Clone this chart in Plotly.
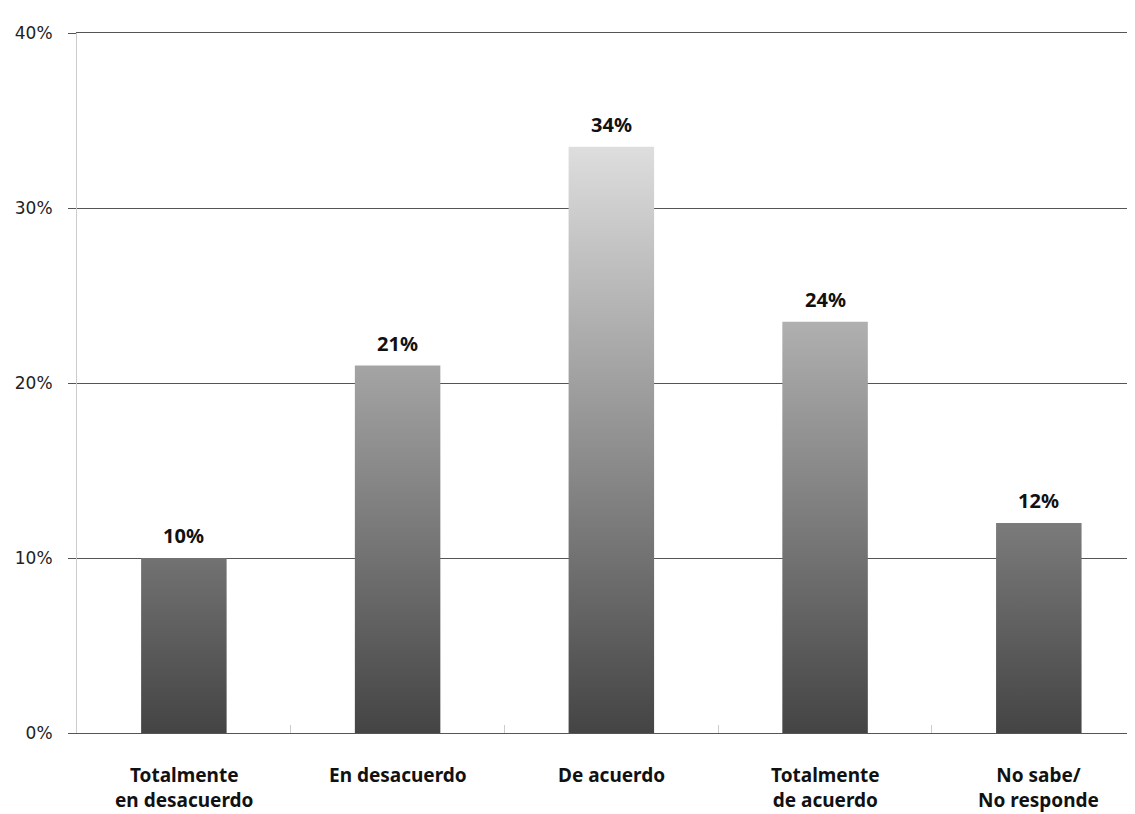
import plotly.graph_objects as go

categories = ["Totalmente<br>en desacuerdo", "En desacuerdo", "De acuerdo", "Totalmente<br>de acuerdo", "No sabe/<br>No responde"]
values = [10, 21, 33.5, 23.5, 12]
labels = ["10%", "21%", "34%", "24%", "12%"]
y_ticks = [0, 10, 20, 30, 40]
y_tick_text = ["0%", "10%", "20%", "30%", "40%"]

BOLD_FONT = "Noto Sans"
bar_w = 0.40
fig = go.Figure()
for i, v in enumerate(values):
    fig.add_trace(go.Scatter(
        x=[i - bar_w / 2, i + bar_w / 2, i + bar_w / 2, i - bar_w / 2, i - bar_w / 2],
        y=[0, 0, v, v, 0],
        mode="lines", line=dict(width=0), fill="toself",
        fillgradient=dict(type="vertical", start=0, stop=34,
                          colorscale=[[0, "#444444"], [1, "#e0e0e0"]]),
        hoverinfo="skip", showlegend=False,
    ))

# invisible trace for boundary tick axis
fig.add_trace(go.Scatter(x=[0], y=[0], xaxis="x2", mode="markers",
                         marker=dict(opacity=0), showlegend=False, hoverinfo="skip"))

annotations = []
for i, (v, lab) in enumerate(zip(values, labels)):
    annotations.append(dict(x=i, y=v, xref="x", yref="y", text=lab, showarrow=False,
                            yanchor="bottom", xanchor="center", yshift=7,
                            font=dict(family=BOLD_FONT, size=20, color="#111111", weight="bold")))
for i, cat in enumerate(categories):
    annotations.append(dict(x=i, y=0, xref="x", yref="y", text=cat, showarrow=False,
                            yanchor="top", xanchor="center", align="center", yshift=-28,
                            borderpad=0,
                            font=dict(family=BOLD_FONT, size=19, color="#111111", weight="bold")))

xr = [-0.5, 4.45]
fig.update_layout(
    width=1127, height=806,
    margin=dict(l=69, r=0, t=25, b=81),
    plot_bgcolor="white", paper_bgcolor="white",
    annotations=annotations,
    xaxis=dict(range=xr, showticklabels=False,
               showgrid=False, zeroline=False, showline=True, mirror=True,
               linecolor="#555555", linewidth=1, ticks=""),
    xaxis2=dict(range=xr, overlaying="x", anchor="y", side="bottom",
                tickvals=[0.5, 1.5, 2.5, 3.5], ticks="inside", ticklen=8,
                tickcolor="#cccccc", tickwidth=1, showticklabels=False,
                showgrid=False, zeroline=False, showline=False),
    yaxis=dict(range=[0, 40], tickvals=y_ticks, ticktext=y_tick_text,
               showgrid=True, gridcolor="#555555", gridwidth=1,
               zeroline=False, showline=True, linecolor="#cccccc", linewidth=1,
               ticks="outside", ticklen=8, tickcolor="#555555",
               tickfont=dict(family="DejaVu Sans", size=17, color="#222222"),
               ticklabelstandoff=12),
)

fig.write_html("out.html")
